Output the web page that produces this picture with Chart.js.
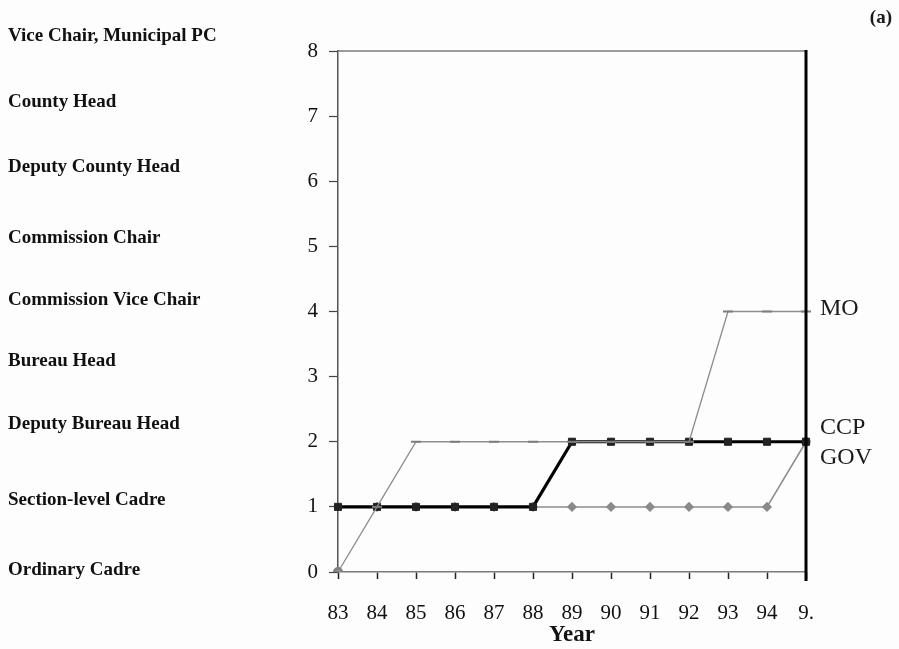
<!DOCTYPE html>
<html>
<head>
<meta charset="utf-8">
<script src="https://cdn.jsdelivr.net/npm/chart.js@4.4.1/dist/chart.umd.min.js"></script>
<style>
  html, body { margin: 0; padding: 0; background: #fdfdfd; }
  #wrap { width: 899px; height: 649px; }
</style>
</head>
<body>
<div id="wrap"><canvas id="c" width="899" height="649"></canvas></div>
<script>
// Career path by year: rank index 0 (Ordinary Cadre) .. 8 (Vice Chair, Municipal PC)
const years = ['83', '84', '85', '86', '87', '88', '89', '90', '91', '92', '93', '94', '95'];
const yearTickLabels = ['83', '84', '85', '86', '87', '88', '89', '90', '91', '92', '93', '94', '9.'];
const moRank  = [0, 1, 2, 2, 2, 2, 2, 2, 2, 2, 4, 4, 4];
const ccpRank = [1, 1, 1, 1, 1, 1, 2, 2, 2, 2, 2, 2, 2];
const govRank = [1, 1, 1, 1, 1, 1, 1, 1, 1, 1, 1, 1, 2];
const rankNames = [
  'Ordinary Cadre', 'Section-level Cadre', 'Deputy Bureau Head', 'Bureau Head',
  'Commission Vice Chair', 'Commission Chair', 'Deputy County Head', 'County Head',
  'Vice Chair, Municipal PC'
];
const rankNameShift = [-2, -7, -18, -16, -11, -8, -14, -14, -15];
const seriesNames = ['MO', 'CCP', 'GOV'];
const panelTag = '(a)';

const serif = '"Liberation Serif", "DejaVu Serif", serif';

// Extra text and frame: rank names on the left, series names on the right,
// the panel tag, the top frame line and the heavy right frame line.
const decorations = {
  id: 'decorations',
  afterDatasetsDraw(chart) {
    const { ctx, chartArea: a, scales: { y } } = chart;
    ctx.save();
    // top frame
    ctx.strokeStyle = '#7a7a7a';
    ctx.lineWidth = 1.5;
    ctx.beginPath();
    ctx.moveTo(a.left, a.top);
    ctx.lineTo(a.right, a.top);
    ctx.stroke();
    // right frame
    ctx.strokeStyle = '#000';
    ctx.lineWidth = 3;
    ctx.beginPath();
    ctx.moveTo(a.right, a.top - 1);
    ctx.lineTo(a.right, a.bottom + 9);
    ctx.stroke();

    // rank names
    ctx.fillStyle = '#111';
    ctx.font = 'bold 19px ' + serif;
    ctx.textAlign = 'left';
    ctx.textBaseline = 'middle';
    rankNames.forEach((name, i) => {
      ctx.fillText(name, 8, y.getPixelForValue(i) + rankNameShift[i]);
    });

    // series names next to the last point of each line
    ctx.font = '24px ' + serif;
    ctx.fillStyle = '#1a1a1a';
    const last = years.length - 1;
    const yMO = y.getPixelForValue(moRank[last]);
    const yCCP = y.getPixelForValue(ccpRank[last]);
    ctx.fillText(seriesNames[0], a.right + 14, yMO - 3);
    ctx.fillText(seriesNames[1], a.right + 14, yCCP - 14);
    ctx.fillText(seriesNames[2], a.right + 14, yCCP + 16);

    // panel tag
    ctx.font = 'bold 19px ' + serif;
    ctx.textAlign = 'right';
    ctx.fillText(panelTag, 892, 18);
    ctx.restore();
  }
};

new Chart(document.getElementById('c'), {
  type: 'line',
  data: {
    labels: years,
    datasets: [
      {
        label: seriesNames[1],
        data: ccpRank,
        borderColor: '#000',
        borderWidth: 3.2,
        pointStyle: 'rect',
        pointRadius: 5,
        pointBackgroundColor: '#222',
        pointBorderColor: '#222',
        pointBorderWidth: 1,
        order: 2
      },
      {
        label: seriesNames[2],
        data: govRank,
        borderColor: '#8c8c8c',
        borderWidth: 1.5,
        pointStyle: govRank.map((v, i) => i === 0 ? 'crossRot' : (i === govRank.length - 1 ? 'circle' : 'rectRot')),
        pointRadius: 4,
        pointBackgroundColor: '#8a8a8a',
        pointBorderColor: govRank.map((v, i) => i === 0 ? '#c8c8c8' : '#8a8a8a'),
        pointBorderWidth: 1.5,
        order: 3
      },
      {
        label: seriesNames[0],
        data: moRank,
        borderColor: '#8e8e8e',
        borderWidth: 1.3,
        pointStyle: moRank.map((v, i) => i === 0 ? 'circle' : 'line'),
        pointRadius: moRank.map((v, i) => i === 0 ? 4 : 5),
        pointBackgroundColor: '#8a8a8a',
        pointBorderColor: '#7d7d7d',
        pointBorderWidth: 2,
        order: 1
      }
    ]
  },
  options: {
    responsive: false,
    animation: false,
    devicePixelRatio: 1,
    layout: { padding: { left: 278, right: 93, top: 51, bottom: 2 } },
    plugins: {
      legend: { display: false },
      tooltip: { enabled: false }
    },
    elements: { line: { tension: 0 } },
    scales: {
      x: {
        type: 'category',
        offset: false,
        afterFit(scale) { scale.height = 75; },
        grid: {
          drawOnChartArea: false,
          tickLength: 7,
          tickColor: '#222',
          tickWidth: 1.5
        },
        border: { display: true, color: '#7a7a7a', width: 1.5 },
        ticks: {
          autoSkip: false,
          maxRotation: 0,
          padding: 22,
          color: '#111',
          font: { family: serif, size: 21 },
          callback: (v, i) => yearTickLabels[i]
        },
        title: {
          display: true,
          text: 'Year',
          color: '#111',
          font: { family: serif, size: 23, weight: 'bold', lineHeight: 1 },
          padding: { top: 0, bottom: 0 }
        }
      },
      y: {
        min: 0,
        max: 8,
        afterFit(scale) { scale.width = 60; },
        grid: {
          drawOnChartArea: false,
          tickLength: 9,
          tickColor: '#444',
          tickWidth: 1.2
        },
        border: { display: true, color: '#555', width: 1.5 },
        ticks: {
          stepSize: 1,
          padding: 11,
          color: '#111',
          font: { family: serif, size: 21 }
        }
      }
    }
  },
  plugins: [decorations]
});
</script>
</body>
</html>
